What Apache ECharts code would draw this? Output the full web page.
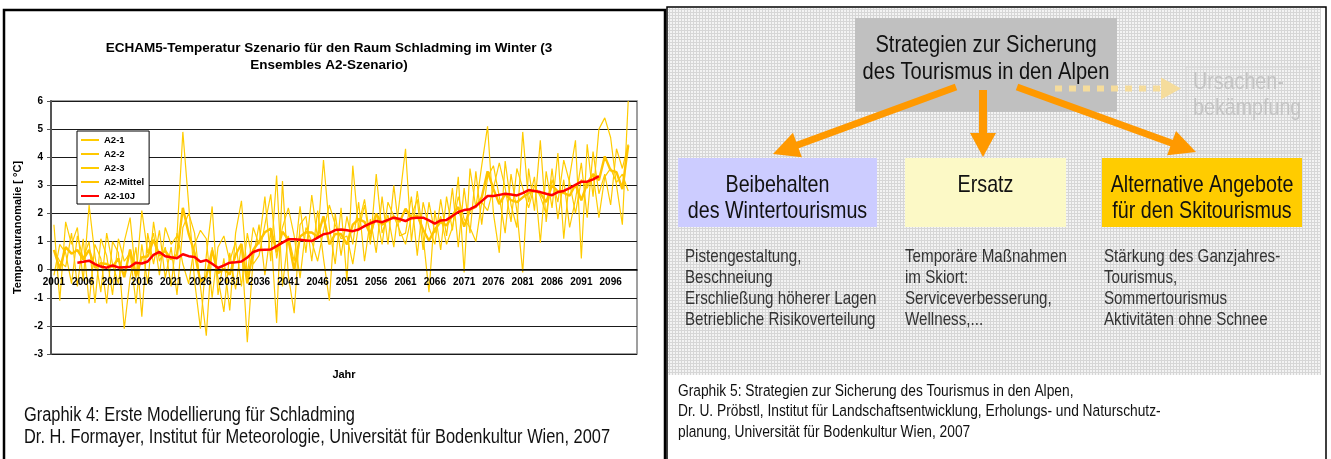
<!DOCTYPE html>
<html lang="de" style="height: 100%">
<head>
  <meta charset="utf-8">
  <script type="text/javascript" src="https://cdn.jsdelivr.net/npm/echarts@6/dist/echarts.min.js"></script>
</head>
<body style="height: 100%; margin: 0; background: #fff">
  <div id="container" style="width: 1331px; height: 459px"></div>
  <script type="text/javascript">
    // Jahre 2001..2100 (Kategorien)
    var years = [];
    for (var yr = 2001; yr <= 2100; yr++) years.push(String(yr));

    var a21 = [
      1.6, -1.1, 1.7, 0.9, 1.5, -0.4, 2.3, 0.5, -0.8, 1.3,
      0.2, -0.5, 1.0, 1.85, -0.3, 2.1, 0.6, 1.3, -0.2, 1.5,
      0.9, 1.2, 4.9, 2.3, -0.4, -2.1, 0.5, 2.25, -0.9, 0.4,
      -1.45, 1.3, 2.45, -0.2, 1.5, 0.9, 2.6, 0.3, 3.35, -0.6,
      1.2, 0.3, 2.25, 0.6, 2.65, 1.1, 3.9, 1.5, 0.2, 2.2,
      -0.4, 3.7, 1.4, 2.3, 0.9, 3.4, 1.3, 1.95, 0.8, 2.5,
      4.3, 1.0, 2.8, 1.2, -0.8, 2.1, 0.7, 2.6, 1.4, 3.3,
      -0.1, 3.6, 2.2, 3.7, 5.1, 2.0, 0.6, 3.86, 2.3, 1.5,
      4.9, 2.4, 3.3, 0.96, 3.5, 2.2, 4.15, 1.1, 3.3, 4.6,
      0.4, 4.46, 2.6, 5.0, 5.4, 4.7, 3.0, 1.6, 6.0, null
    ];
    var a22 = [
      0.7, 0.3, 0.1, 1.3, -0.6, 1.1, -1.2, 0.9, 0.4, -1.2,
      1.0, 0.6, -2.1, -0.3, 0.8, -1.67, 1.3, 0.2, 1.4, -0.3,
      0.8, -0.9, 1.5, 2.0, 1.3, -0.6, -2.35, 0.8, -0.3, -1.5,
      0.6, -0.7, 0.9, -2.58, 0.4, 1.6, -0.2, 1.4, -1.9, 3.15,
      -0.2, -1.55, 1.6, 1.9, 0.3, 2.1, 0.4, -1.1, 2.0, 0.5,
      1.9, 0.9, 2.4, 0.3, 1.8, 0.6, 2.6, 0.9, 3.0, 1.2,
      1.3, 2.6, 0.5, 2.4, 1.5, 0.9, 2.5, 1.2, 2.9, 0.8,
      2.9, 1.3, 3.5, 1.6, 3.3, 3.7, 2.6, 1.3, 3.4, 2.1,
      -0.1, 3.6, 2.1, 4.6, 1.7, 3.6, 1.8, 3.2, 1.5, 2.5,
      3.8, 1.85, 4.2, 2.7, 3.4, 2.3, 4.3, 3.6, 4.46, null
    ];
    var a23 = [
      -0.2, 0.9, 0.6, -0.5, 1.2, 0.4, 1.0, -1.18, 1.1, 0.5,
      -0.9, 1.1, 0.3, 0.6, -1.2, 0.9, -0.5, 1.7, 0.3, 0.8,
      -0.6, 1.3, 0.2, -0.5, 0.9, 1.4, 1.1, -1.0, 0.8, 1.2,
      0.3, 1.0, -0.6, 1.3, 0.2, 0.5, 1.6, 2.68, 0.4, 1.5,
      2.2, 1.2, -0.3, 1.5, 1.0, 0.3, 1.4, 2.3, 1.6, 1.1,
      1.2, 0.2, 1.6, 2.5, 1.1, 2.0, 0.9, 2.4, 1.9, 1.4,
      0.9, 1.9, 2.5, 0.7, 2.4, 1.3, 1.9, 0.9, 1.5, 2.6,
      1.8, 1.5, 1.0, 2.4, 2.1, 2.9, 3.8, 2.9, 1.7, 3.6,
      2.9, 2.2, 3.0, 2.6, 2.0, 3.2, 2.4, 3.9, 3.1, 2.0,
      3.2, 2.9, 3.4, 1.85, 3.3, 3.6, 3.1, 3.4, 2.8, null
    ];
    var mittel = [
      0.7, 0.03, 0.8, 0.57, 0.7, 0.37, 0.7, 0.07, 0.23, 0.2,
      0.1, 0.4, -0.27, 0.72, -0.23, 0.44, 0.47, 1.07, 0.5, 0.67,
      0.37, 0.53, 2.2, 1.27, 0.6, -0.43, -0.25, 0.68, -0.13, 0.03,
      -0.18, 0.53, 0.92, -0.49, 0.7, 1.0, 1.33, 1.46, 0.62, 1.35,
      1.07, -0.02, 1.18, 1.33, 1.32, 1.17, 1.9, 0.9, 1.27, 1.27,
      0.9, 1.6, 1.8, 1.7, 1.27, 2.0, 1.6, 1.75, 1.9, 1.7,
      2.17, 1.83, 1.93, 1.43, 1.03, 1.43, 1.7, 1.57, 1.93, 2.23,
      1.53, 2.13, 2.23, 2.57, 3.5, 2.87, 2.33, 2.69, 2.47, 2.4,
      2.57, 2.73, 2.8, 2.72, 2.4, 3.0, 2.78, 2.73, 2.63, 3.03,
      2.47, 3.07, 3.4, 3.18, 4.03, 3.53, 3.47, 2.87, 4.42, null
    ];
    var a10j = [
      null, null, null, null,
      0.25, 0.28, 0.32, 0.2, 0.11, 0.07, 0.15, 0.08, 0.09, 0.1,
      0.25, 0.22, 0.29, 0.53, 0.63, 0.48, 0.44, 0.41, 0.55, 0.48,
      0.45, 0.28, 0.34, 0.21, 0.06, 0.15, 0.25, 0.26, 0.29, 0.43,
      0.63, 0.7, 0.71, 0.72, 0.84, 0.96, 1.08, 1.08, 1.06, 1.04,
      1.02, 1.14, 1.26, 1.3, 1.41, 1.43, 1.4, 1.37, 1.43, 1.55,
      1.65, 1.73, 1.69, 1.77, 1.85, 1.8, 1.73, 1.83, 1.85, 1.85,
      1.75, 1.64, 1.75, 1.77, 1.91, 2.05, 2.12, 2.15, 2.26, 2.44,
      2.62, 2.62, 2.66, 2.7, 2.67, 2.64, 2.72, 2.83, 2.8, 2.76,
      2.7, 2.65, 2.76, 2.8, 2.9, 3.02, 3.13, 3.13, 3.21, 3.33,
      null, null, null, null, null, null
    ];

    var chartTitle = ['ECHAM5-Temperatur Szenario für den Raum Schladming im Winter (3', 'Ensembles A2-Szenario)'];
    var caption4 = ['Graphik 4: Erste Modellierung für Schladming',
      'Dr. H. Formayer, Institut für Meteorologie, Universität für Bodenkultur Wien, 2007'];
    var caption5 = ['Graphik 5: Strategien zur Sicherung des Tourismus in den Alpen,',
      'Dr. U. Pröbstl, Institut für Landschaftsentwicklung, Erholungs- und Naturschutz-',
      'planung, Universität für Bodenkultur Wien, 2007'];
    var topBox = ['Strategien zur Sicherung', 'des Tourismus in den Alpen'];
    var boxLabels = [['Beibehalten', 'des Wintertourismus'], ['Ersatz'], ['Alternative Angebote', 'für den Skitourismus']];
    var causeBox = ['Ursachen-', 'bekämpfung'];
    var notes = [
      ['Pistengestaltung,', 'Beschneiung', 'Erschließung höherer Lagen', 'Betriebliche Risikoverteilung'],
      ['Temporäre Maßnahmen', 'im Skiort:', 'Serviceverbesserung,', 'Wellness,...'],
      ['Stärkung des Ganzjahres-', 'Tourismus,', 'Sommertourismus', 'Aktivitäten ohne Schnee']
    ];

    var ARIAL = "'Liberation Sans', Arial, sans-serif";

    // feines Rastermuster für den Hintergrund rechts
    var pat = document.createElement('canvas');
    pat.width = 3; pat.height = 3;
    var pc = pat.getContext('2d');
    pc.fillStyle = '#f3f3f3'; pc.fillRect(0, 0, 3, 3);
    pc.fillStyle = '#d6d6d6'; pc.fillRect(0, 0, 3, 1); pc.fillRect(0, 0, 1, 3);

    // "Arial Narrow": Liberation Sans, horizontal gestaucht
    function txt(s, x, y, size, fill, align, weight) {
      return {
        type: 'text', z: 20, x: x, y: y, scaleX: 0.82,
        style: { text: s, x: 0, y: 0, font: (weight || 'normal') + ' ' + size + 'px ' + ARIAL,
          fill: fill || '#000', textAlign: align || 'left', textVerticalAlign: 'middle' }
      };
    }
    function arrow(x1, y1, x2, y2, w, hl, hw, color, dash) {
      var dx = x2 - x1, dy = y2 - y1, len = Math.sqrt(dx * dx + dy * dy);
      var ux = dx / len, uy = dy / len;
      var bx = x2 - ux * hl, by = y2 - uy * hl;
      return [
        { type: 'line', z: 15, shape: { x1: x1, y1: y1, x2: bx + ux * 2, y2: by + uy * 2 },
          style: { stroke: color, lineWidth: w, lineDash: dash || null } },
        { type: 'polygon', z: 15, shape: { points: [[x2, y2], [bx - uy * hw, by + ux * hw], [bx + uy * hw, by - ux * hw]] },
          style: { fill: color } }
      ];
    }

    var els = [];
    // linkes Feld
    els.push({ type: 'rect', z: 1, shape: { x: 4, y: 10, width: 661, height: 470 }, style: { fill: 'none', stroke: '#000', lineWidth: 2.5 } });
    els.push({ type: 'text', z: 20, style: { text: chartTitle[0], x: 329, y: 48, font: 'bold 13.5px ' + ARIAL, fill: '#000', textAlign: 'center', textVerticalAlign: 'middle' } });
    els.push({ type: 'text', z: 20, style: { text: chartTitle[1], x: 329, y: 65, font: 'bold 13.5px ' + ARIAL, fill: '#000', textAlign: 'center', textVerticalAlign: 'middle' } });
    els.push(txt(caption4[0], 24, 415, 20, '#111'));
    els.push(txt(caption4[1], 24, 437, 20, '#111'));

    // rechtes Feld
    els.push({ type: 'rect', z: 1, shape: { x: 668, y: 8, width: 653, height: 367 }, style: { fill: { image: pat, repeat: 'repeat' } } });
    els.push({ type: 'rect', z: 2, shape: { x: 667, y: 7, width: 659, height: 470 }, style: { fill: 'none', stroke: '#000', lineWidth: 1.5 } });
    els.push({ type: 'rect', z: 5, shape: { x: 1186, y: 67, width: 126, height: 85 }, style: { fill: 'none', stroke: '#d6d6d6', lineWidth: 1 } });
    els.push({ type: 'rect', z: 5, shape: { x: 855, y: 18, width: 262, height: 94 }, style: { fill: '#c0c0c0' } });
    els.push({ type: 'rect', z: 5, shape: { x: 678, y: 158, width: 199, height: 69 }, style: { fill: '#ccccff' } });
    els.push({ type: 'rect', z: 5, shape: { x: 905, y: 158, width: 161, height: 69 }, style: { fill: '#fcf9c6' } });
    els.push({ type: 'rect', z: 5, shape: { x: 1102, y: 158, width: 200, height: 69 }, style: { fill: '#ffcc00' } });

    els = els.concat(arrow(1055, 88.5, 1181, 88.5, 6, 20, 11, '#f5dc9c', [7, 7]));
    els = els.concat(arrow(956, 87, 773, 154, 7, 26, 13, '#ff9900'));
    els = els.concat(arrow(983, 90, 983, 157, 8, 24, 13, '#ff9900'));
    els = els.concat(arrow(1017, 87, 1196, 152, 7, 26, 13, '#ff9900'));

    els.push(txt(topBox[0], 986, 45, 24.5, '#111', 'center'));
    els.push(txt(topBox[1], 986, 72, 24.5, '#111', 'center'));
    els.push(txt(causeBox[0], 1193, 82, 24, '#c4c4c4'));
    els.push(txt(causeBox[1], 1193, 108, 24, '#c4c4c4'));
    var boxCx = [777.5, 985.5, 1202];
    boxLabels.forEach(function (lines, i) {
      lines.forEach(function (s, j) {
        els.push(txt(s, boxCx[i], 185 + j * 26, 24, '#111', 'center'));
      });
    });
    var noteX = [685, 905, 1104];
    notes.forEach(function (lines, i) {
      lines.forEach(function (s, j) {
        els.push(txt(s, noteX[i], 257 + j * 21, 18.5, '#333'));
      });
    });
    caption5.forEach(function (s, j) {
      els.push(txt(s, 678, 391 + j * 20.5, 16.8, '#111'));
    });

    var dom = document.getElementById('container');
    var myChart = echarts.init(dom, null, { renderer: 'canvas' });
    var option = {
      animation: false,
      backgroundColor: '#fff',
      textStyle: { fontFamily: ARIAL },
      graphic: { elements: els },
      legend: {
        orient: 'vertical',
        left: 77,
        top: 131,
        z: 10,
        padding: [4, 5, 3, 3],
        itemWidth: 18,
        itemHeight: 8,
        itemGap: 4,
        itemStyle: { opacity: 0 },
        backgroundColor: '#fff',
        borderColor: '#000',
        borderWidth: 1,
        borderRadius: 0,
        textStyle: { fontSize: 9.5, fontWeight: 'bold', color: '#000', lineHeight: 10, fontFamily: ARIAL },
        data: ['A2-1', 'A2-2', 'A2-3', 'A2-Mittel', 'A2-10J']
      },
      grid: [
        // Plotfläche
        { left: 51, top: 101, width: 586, height: 253, show: true, borderColor: '#808080', borderWidth: 1.5, backgroundColor: '#fff' },
        // obere Hälfte bis zur Nulllinie: trägt die Jahresachse
        { left: 51, top: 101, width: 586, height: 168.67, show: false }
      ],
      xAxis: [
        {
          type: 'category', gridIndex: 0, data: years, boundaryGap: true,
          axisLine: { show: false }, axisTick: { show: false }, axisLabel: { show: false }, splitLine: { show: false }
        },
        {
          type: 'category', gridIndex: 1, data: years, boundaryGap: true, z: 5,
          name: 'Jahr',
          nameLocation: 'middle',
          nameGap: 100,
          nameTextStyle: { fontSize: 11, fontWeight: 'bold', color: '#000' },
          axisLine: { lineStyle: { color: '#000', width: 1.5 } },
          axisTick: { interval: 4, length: 4, lineStyle: { color: '#000' } },
          axisLabel: { interval: 4, fontSize: 10, fontWeight: 'bold', color: '#000', margin: 8 },
          splitLine: { show: false }
        }
      ],
      yAxis: [
        {
          type: 'value', gridIndex: 0,
          min: -3,
          max: 6,
          interval: 1,
          name: 'Temperaturanomalie [ °C]',
          nameLocation: 'middle',
          nameGap: 28,
          nameTextStyle: { fontSize: 11, fontWeight: 'bold', color: '#000' },
          axisLine: { show: true, lineStyle: { color: '#555', width: 2 } },
          axisTick: { show: true, length: 4, lineStyle: { color: '#555' } },
          axisLabel: { fontSize: 10, fontWeight: 'bold', color: '#000', margin: 8 },
          splitLine: { lineStyle: { color: '#1a1a1a', width: 1 } }
        },
        { type: 'value', gridIndex: 1, min: 0, max: 6, show: false }
      ],
      series: [
        { name: 'A2-1', type: 'line', data: a21, symbol: 'none', lineStyle: { color: '#ffcc00', width: 1.2 }, itemStyle: { color: '#ffcc00' } },
        { name: 'A2-2', type: 'line', data: a22, symbol: 'none', lineStyle: { color: '#ffc800', width: 1.2 }, itemStyle: { color: '#ffc800' } },
        { name: 'A2-3', type: 'line', data: a23, symbol: 'none', lineStyle: { color: '#ffcc00', width: 1.2 }, itemStyle: { color: '#ffcc00' } },
        { name: 'A2-Mittel', type: 'line', data: mittel, symbol: 'none', lineStyle: { color: '#ffc400', width: 2.4 }, itemStyle: { color: '#ffc400' } },
        { name: 'A2-10J', type: 'line', data: a10j, symbol: 'none', z: 4, lineStyle: { color: '#ff0000', width: 2.5 }, itemStyle: { color: '#ff0000' } }
      ]
    };
    myChart.setOption(option);
  </script>
</body>
</html>
